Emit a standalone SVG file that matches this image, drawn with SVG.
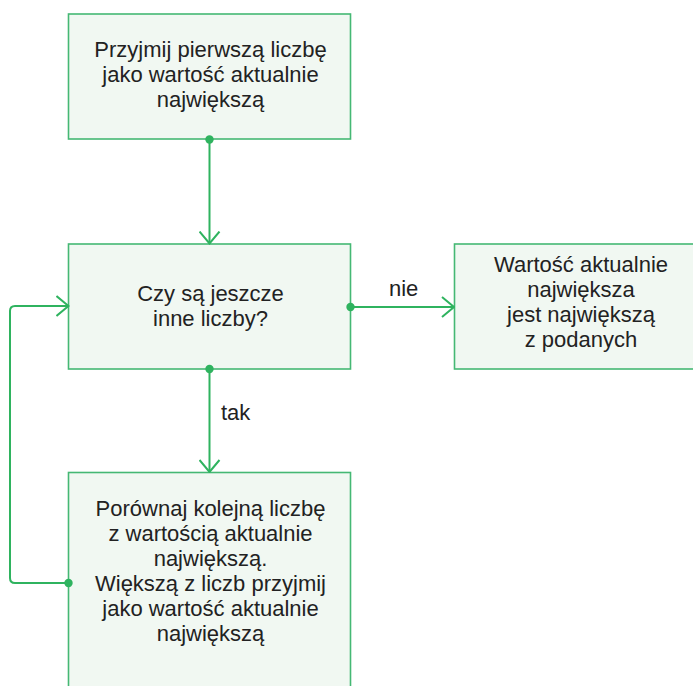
<svg xmlns="http://www.w3.org/2000/svg" width="693" height="686" viewBox="0 0 693 686">
<style>
.box{fill:#f1f8f2;stroke:#45b874;stroke-width:1.6}
.t{font-family:"Liberation Sans",Arial,Helvetica,sans-serif;font-size:22px;fill:#222;text-anchor:middle}
.lbl{font-family:"Liberation Sans",Arial,Helvetica,sans-serif;font-size:22px;fill:#222}
.c{fill:none;stroke:#2fb35f;stroke-width:2}
.dot{fill:#2fb35f}
</style>
<defs>
<marker id="arr" viewBox="0 0 14 22" refX="13" refY="11" markerWidth="14" markerHeight="22" markerUnits="userSpaceOnUse" orient="auto">
<path d="M1 1 L13 11 L1 21" fill="none" stroke="#2fb35f" stroke-width="2"/>
</marker>
</defs>
<rect width="693" height="686" fill="#fff"/>
<g id="n1">
<rect class="box" x="68.5" y="14" width="282" height="125"/>
<text class="t" x="210.5" y="57">Przyjmij pierwszą liczbę</text>
<text class="t" x="210.5" y="82">jako wartość aktualnie</text>
<text class="t" x="210.5" y="107">największą</text>
</g>
<g id="n2">
<rect class="box" x="68.5" y="244" width="282" height="125"/>
<text class="t" x="210.5" y="301">Czy są jeszcze</text>
<text class="t" x="210.5" y="326">inne liczby?</text>
</g>
<g id="n3">
<rect class="box" x="454.5" y="244" width="260" height="125"/>
<text class="t" x="581" y="272">Wartość aktualnie</text>
<text class="t" x="581" y="297">największa</text>
<text class="t" x="581" y="322">jest największą</text>
<text class="t" x="581" y="347">z podanych</text>
</g>
<g id="n4">
<rect class="box" x="68.5" y="472.5" width="282" height="230"/>
<text class="t" x="210.5" y="516">Porównaj kolejną liczbę</text>
<text class="t" x="210.5" y="541">z wartością aktualnie</text>
<text class="t" x="210.5" y="566">największą.</text>
<text class="t" x="210.5" y="591">Większą z liczb przyjmij</text>
<text class="t" x="210.5" y="616">jako wartość aktualnie</text>
<text class="t" x="210.5" y="641">największą</text>
</g>
<g id="connectors">
<path class="c" d="M209.5 139.5 V243.5" marker-end="url(#arr)"/>
<circle class="dot" cx="209.5" cy="139.5" r="4.2"/>
<path class="c" d="M350.5 307 H454" marker-end="url(#arr)"/>
<circle class="dot" cx="350.5" cy="307" r="4.2"/>
<text class="lbl" x="389" y="296">nie</text>
<path class="c" d="M209.5 369 V472" marker-end="url(#arr)"/>
<circle class="dot" cx="209.5" cy="369" r="4.2"/>
<text class="lbl" x="221" y="420">tak</text>
<path class="c" d="M68.5 583 H15 Q10 583 10 578 V311 Q10 306 15 306 H68.5" marker-end="url(#arr)"/>
<circle class="dot" cx="68.5" cy="583" r="4.2"/>
</g>
</svg>
